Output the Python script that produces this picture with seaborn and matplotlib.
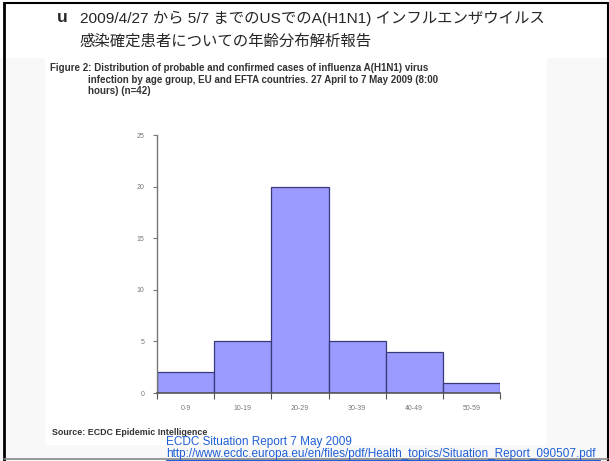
import seaborn as sns
import matplotlib.pyplot as plt
import matplotlib.patches as mpatches
import pandas as pd

# Age groups and number of cases
age_groups = ['0-9', '10-19', '20-29', '30-39', '40-49', '50-59']
cases = [2, 5, 20, 5, 4, 1]
y_ticks = [0, 5, 10, 15, 20, 25]

title_line1 = '2009/4/27 から 5/7 までのUSでのA(H1N1) インフルエンザウイルス'
title_line2 = '感染確定患者についての年齢分布解析報告'
caption = ['Figure 2: Distribution of probable and confirmed cases of influenza A(H1N1) virus',
           'infection by age group, EU and EFTA countries. 27 April to 7 May 2009 (8:00',
           'hours) (n=42)']
source = 'Source: ECDC Epidemic Intelligence'
ref_title = 'ECDC Situation Report 7 May 2009'
ref_url = 'http://www.ecdc.europa.eu/en/files/pdf/Health_topics/Situation_Report_090507.pdf'

sns.set_style('white')
plt.rcParams['font.family'] = ['Liberation Sans', 'Noto Sans CJK JP', 'DejaVu Sans']

df = pd.DataFrame({'age': age_groups, 'cases': cases})

fig = plt.figure(figsize=(6.09, 4.61), dpi=100)
fig.patch.set_facecolor('#f8f8f8')

# white header of the slide and white area of the pasted figure image
fig.patches.append(mpatches.Rectangle((0.0, 1 - 58 / 461), 1.0, 58 / 461, transform=fig.transFigure,
                                      facecolor='white', edgecolor='none', zorder=0))
fig.patches.append(mpatches.Rectangle((45 / 609, 1 - 445 / 461), 502 / 609, 388 / 461,
                                      transform=fig.transFigure, facecolor='white',
                                      edgecolor='none', zorder=0))
# slide frame
fig.add_artist(plt.Line2D([0.007, 0.007], [0.0, 0.993], transform=fig.transFigure,
                          color='black', lw=2))
fig.add_artist(plt.Line2D([0.007, 0.998], [0.993, 0.993], transform=fig.transFigure,
                          color='black', lw=1.5))
fig.add_artist(plt.Line2D([0.998, 0.998], [0.0, 0.993], transform=fig.transFigure,
                          color='black', lw=1.5))
fig.add_artist(plt.Line2D([0.007, 0.998], [0.004, 0.004], transform=fig.transFigure,
                          color='#888888', lw=1.2))

ax = fig.add_axes([157 / 609, 1 - 393 / 461, 343 / 609, 258 / 461])
ax.set_zorder(3)
ax.set_facecolor('none')
sns.barplot(data=df, x='age', y='cases', color='#9a9aff', saturation=1, width=1.0,
            edgecolor='#3a3a7a', linewidth=0.9, ax=ax)
ax.set_xlim(-0.5, len(age_groups) - 0.5)
ax.set_ylim(0, 25)
ax.set_xlabel('')
ax.set_ylabel('')

ax.set_xticks([i - 0.5 for i in range(len(age_groups) + 1)])
ax.set_xticklabels([])
ax.set_xticks(range(len(age_groups)), minor=True)
ax.set_xticklabels(age_groups, minor=True, fontsize=5, color='#777777')
ax.tick_params(axis='x', which='major', length=4, width=0.8, color='#555555', direction='out')
ax.tick_params(axis='x', which='minor', length=0, pad=9)
ax.set_yticks(y_ticks)
ax.set_yticklabels([str(v) for v in y_ticks], fontsize=5, color='#777777')
ax.tick_params(axis='y', length=3, width=0.8, color='#777777', direction='out', pad=6)
ax.tick_params(left=True, bottom=True)

for s in ['top', 'right']:
    ax.spines[s].set_visible(False)
ax.spines['left'].set_color('#777777')
ax.spines['bottom'].set_color('#555555')
ax.spines['left'].set_linewidth(1.0)
ax.spines['bottom'].set_linewidth(1.2)

# slide title
fig.text(57 / 609, 1 - 18 / 461, 'u', fontsize=12.5, fontweight='bold', va='center', ha='left')
fig.text(80 / 609, 1 - 18 / 461, title_line1, fontsize=11.1, va='center', ha='left')
fig.text(80 / 609, 1 - 41 / 461, title_line2, fontsize=11.1, va='center', ha='left')

# caption of the pasted figure
fig.text(50 / 609, 1 - 68 / 461, caption[0], fontsize=7.0, fontweight='bold',
         color='#333333', va='center', ha='left')
fig.text(88 / 609, 1 - 80 / 461, caption[1], fontsize=7.0, fontweight='bold',
         color='#333333', va='center', ha='left')
fig.text(88 / 609, 1 - 91 / 461, caption[2], fontsize=7.0, fontweight='bold',
         color='#333333', va='center', ha='left')
fig.text(52 / 609, 1 - 432 / 461, source, fontsize=6.4, fontweight='bold',
         color='#333333', va='center', ha='left')

# reference link
fig.text(166 / 609, 1 - 442 / 461, ref_title, fontsize=8.5, color='#1f5fd6',
         va='center', ha='left')
fig.text(166 / 609, 1 - 454 / 461, ref_url, fontsize=8.5, color='#1f5fd6',
         va='center', ha='left')
fig.add_artist(plt.Line2D([166 / 609, 600 / 609], [1 - 460 / 461, 1 - 460 / 461],
                          transform=fig.transFigure, color='#1f5fd6', lw=0.8))

plt.savefig('out.png', dpi=100)
